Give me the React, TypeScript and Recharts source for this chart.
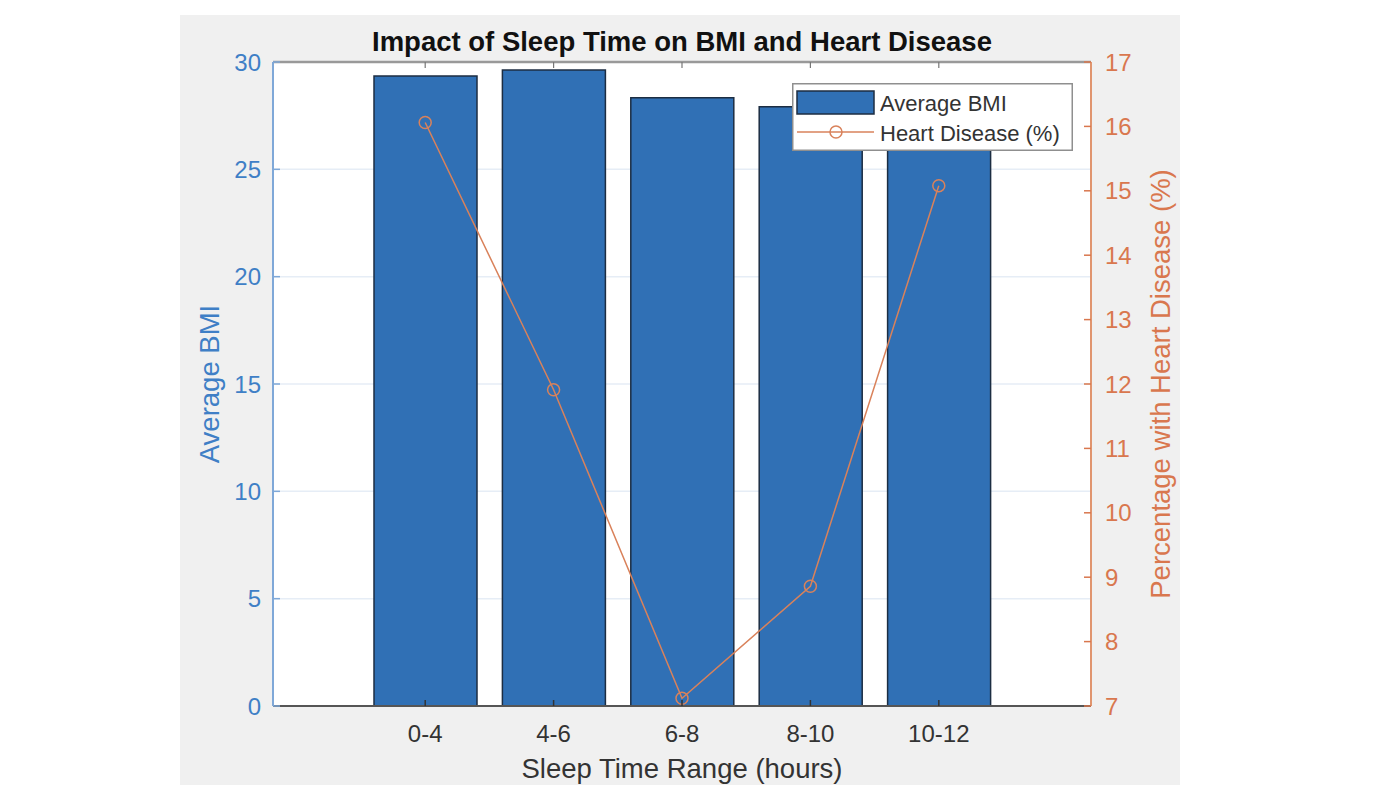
import React from "react";
import {
  ComposedChart,
  Bar,
  Line,
  XAxis,
  YAxis,
  CartesianGrid,
  Label,
} from "recharts";

const sleepRanges = ["0-4", "4-6", "6-8", "8-10", "10-12"];
const avgBmi = [29.35, 29.63, 28.34, 27.92, 27.6];
const heartDiseasePct = [16.06, 11.91, 7.12, 8.86, 15.08];

const bmiTicks = [0, 5, 10, 15, 20, 25, 30];
const pctTicks = [7, 8, 9, 10, 11, 12, 13, 14, 15, 16, 17];

const rows = sleepRanges.map((range, i) => ({
  range,
  bmi: avgBmi[i],
  pct: heartDiseasePct[i],
}));

const FONT = '"Liberation Sans", Arial, Helvetica, sans-serif';
const BAR_FILL = "#3070b5";
const BAR_EDGE = "#1c2d42";
const LEFT_COLOR = "#3f7fc6";
const LEFT_LINE = "#7fa8d8";
const RIGHT_COLOR = "#d9774e";
const LINE_COLOR = "#d9825b";
const TEXT_DARK = "#333333";
const TITLE_SIZE = 27.5;

// inward tick + label for the left axis
function BmiTick(props: any) {
  const { x, y, payload } = props;
  return (
    <g>
      <line x1={x + 12} x2={x + 19} y1={y} y2={y} stroke={LEFT_LINE} strokeWidth={1.5} />
      <text x={x} y={y} dy="0.355em" textAnchor="end" fill={LEFT_COLOR} fontSize={24} fontFamily={FONT}>
        {payload.value}
      </text>
    </g>
  );
}

function PctTick(props: any) {
  const { x, y, payload } = props;
  return (
    <g>
      <line x1={x - 14} x2={x - 21} y1={y} y2={y} stroke={RIGHT_COLOR} strokeWidth={1.5} />
      <text x={x} y={y} dy="0.355em" textAnchor="start" fill={RIGHT_COLOR} fontSize={24} fontFamily={FONT}>
        {payload.value}
      </text>
    </g>
  );
}

function RangeTick(props: any) {
  const { x, y, payload } = props;
  return (
    <g>
      <line x1={x} x2={x} y1={y} y2={y - 6} stroke="#333" strokeWidth={1.5} />
      <text x={x} y={y + 36} textAnchor="middle" fill={TEXT_DARK} fontSize={24} fontFamily={FONT}>
        {payload.value}
      </text>
    </g>
  );
}

// top box edge only carries the inward tick marks
function TopTick(props: any) {
  const { x, y } = props;
  return <line x1={x} x2={x} y1={y} y2={y + 6} stroke="#777" strokeWidth={1.2} />;
}

const verticalTitle = (text: string, offset: number, color: string) => (props: any) => {
  const { x, y, width, height } = props.viewBox;
  const cx = x + offset;
  const cy = y + height / 2;
  return (
    <text
      x={cx}
      y={cy}
      transform={`rotate(-90 ${cx} ${cy})`}
      textAnchor="middle"
      fill={color}
      fontSize={TITLE_SIZE}
      fontFamily={FONT}
    >
      {text}
    </text>
  );
};

const xTitle = (props: any) => {
  const { x, y, width } = props.viewBox;
  return (
    <text x={x + width / 2} y={y + 72} textAnchor="middle" fill={TEXT_DARK} fontSize={TITLE_SIZE} fontFamily={FONT}>
      Sleep Time Range (hours)
    </text>
  );
};

const chartTitle = (props: any) => {
  const { x, y, width } = props.viewBox;
  return (
    <text
      x={x + width / 2}
      y={y + 51}
      textAnchor="middle"
      fill="#111"
      fontSize={TITLE_SIZE}
      fontWeight="bold"
      fontFamily={FONT}
    >
      Impact of Sleep Time on BMI and Heart Disease
    </text>
  );
};

function LegendBox() {
  return (
    <svg width={281} height={68} style={{ display: "block" }}>
      <rect x={0.75} y={0.75} width={279.5} height={66.5} fill="#fff" stroke="#8f8f8f" strokeWidth={1.5} />
      <rect x={5} y={8} width={77} height={23} fill={BAR_FILL} stroke={BAR_EDGE} strokeWidth={1.5} />
      <text x={88} y={20} dy="0.355em" fontSize={22} fontFamily={FONT} fill={TEXT_DARK}>
        Average BMI
      </text>
      <line x1={5} x2={82} y1={49} y2={49} stroke={LINE_COLOR} strokeWidth={1.5} />
      <circle cx={44} cy={49} r={6} fill="none" stroke={LINE_COLOR} strokeWidth={1.5} />
      <text x={88} y={50} dy="0.355em" fontSize={22} fontFamily={FONT} fill={TEXT_DARK}>
        Heart Disease (%)
      </text>
    </svg>
  );
}

export default function App() {
  return (
    <div style={{ position: "absolute", left: 0, top: 0, width: 1400, height: 800, background: "#fff" }}>
      <div
        style={{
          position: "absolute",
          left: 180,
          top: 15,
          width: 1000,
          height: 770,
          background: "#f0f0f0",
        }}
      />
      <div style={{ position: "absolute", left: 0, top: 0 }}>
        <ComposedChart
          width={1400}
          height={800}
          data={rows}
          margin={{ top: 0, right: 0, bottom: 0, left: 0 }}
        >
          <CartesianGrid
            yAxisId="bmi"
            vertical={false}
            stroke="#e6edf6"
            strokeWidth={1.5}
            fill="#ffffff"
          />
          <XAxis
            xAxisId="top"
            orientation="top"
            dataKey="range"
            height={62}
            padding={{ left: 88, right: 88 }}
            axisLine={{ stroke: "#999999", strokeWidth: 2.5 }}
            tickLine={false}
            tickSize={0}
            tickMargin={0}
            tick={<TopTick />}
            interval={0}
          >
            <Label content={chartTitle} />
          </XAxis>
          <XAxis
            dataKey="range"
            height={94}
            padding={{ left: 88, right: 88 }}
            axisLine={{ stroke: "#555555", strokeWidth: 2 }}
            tickLine={false}
            tickSize={0}
            tickMargin={0}
            tick={<RangeTick />}
            interval={0}
          >
            <Label content={xTitle} />
          </XAxis>
          <YAxis
            yAxisId="bmi"
            domain={[0, 30]}
            ticks={bmiTicks}
            width={273}
            axisLine={{ stroke: LEFT_LINE, strokeWidth: 2 }}
            tickLine={false}
            tickSize={0}
            tickMargin={12}
            tick={<BmiTick />}
            interval={0}
          >
            <Label content={verticalTitle("Average BMI", 219, LEFT_COLOR)} />
          </YAxis>
          <YAxis
            yAxisId="pct"
            orientation="right"
            domain={[7, 17]}
            ticks={pctTicks}
            width={309}
            axisLine={{ stroke: "#e0956f", strokeWidth: 2 }}
            tickLine={false}
            tickSize={0}
            tickMargin={14}
            tick={<PctTick />}
            interval={0}
          >
            <Label content={verticalTitle("Percentage with Heart Disease (%)", 79, RIGHT_COLOR)} />
          </YAxis>
          <Bar
            yAxisId="bmi"
            dataKey="bmi"
            name="Average BMI"
            fill={BAR_FILL}
            stroke={BAR_EDGE}
            strokeWidth={1.5}
            barSize={103}
            isAnimationActive={false}
          />
          <Line
            yAxisId="pct"
            dataKey="pct"
            name="Heart Disease (%)"
            type="linear"
            stroke={LINE_COLOR}
            strokeWidth={1.5}
            dot={{ r: 6, fill: "none", stroke: LINE_COLOR, strokeWidth: 1.5 }}
            activeDot={false}
            isAnimationActive={false}
          />
        </ComposedChart>
      </div>
      <div style={{ position: "absolute", left: 792, top: 83 }}>
        <LegendBox />
      </div>
    </div>
  );
}
